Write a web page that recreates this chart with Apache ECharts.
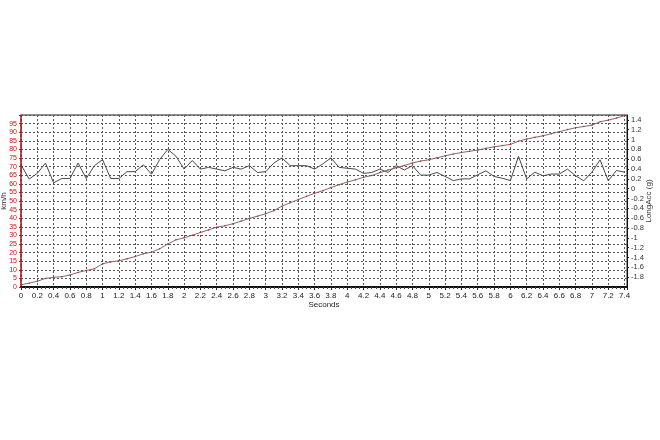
<!DOCTYPE html>
<html>
<head>
<meta charset="utf-8">
<script src="https://cdn.jsdelivr.net/npm/echarts@6/dist/echarts.min.js"></script>
<style>html,body{margin:0;padding:0;background:#fff}#c{width:660px;height:440px}</style>
</head>
<body>
<div id="c"></div>
<script>
var times = [0,0.1,0.2,0.3,0.4,0.5,0.6,0.7,0.8,0.9,1.0,1.1,1.2,1.3,1.4,1.5,1.6,1.7,1.8,1.9,2.0,2.1,2.2,2.3,2.4,2.5,2.6,2.7,2.8,2.9,3.0,3.1,3.2,3.3,3.4,3.5,3.6,3.7,3.8,3.9,4.0,4.1,4.2,4.3,4.4,4.5,4.6,4.7,4.8,4.9,5.0,5.1,5.2,5.3,5.4,5.5,5.6,5.7,5.8,5.9,6.0,6.1,6.2,6.3,6.4,6.5,6.6,6.7,6.8,6.9,7.0,7.1,7.2,7.3,7.4];
var speedKmh = [1.3,2.2,3.3,5.0,5.6,6.0,7.0,8.5,9.6,10.6,13.5,14.6,15.2,16.4,17.7,19.3,20.2,22.2,25.0,27.4,28.6,30.1,31.7,33.2,34.8,35.6,36.8,38.3,39.9,41.2,42.6,44.4,47.0,49.0,50.8,52.7,54.5,56.0,57.8,59.5,61.0,62.3,63.8,64.8,66.5,68.0,69.3,70.7,72.1,73.2,74.0,75.1,76.3,77.3,78.2,78.9,79.6,80.6,81.5,82.2,82.9,84.8,86.0,87.0,87.9,89.1,90.3,91.5,92.6,93.3,94.1,96.1,97.0,98.2,99.6];
var longAcc = [0.487,0.197,0.312,0.522,0.120,0.207,0.207,0.522,0.207,0.469,0.592,0.207,0.207,0.347,0.347,0.487,0.295,0.592,0.801,0.661,0.399,0.574,0.399,0.434,0.399,0.364,0.434,0.399,0.469,0.330,0.347,0.522,0.627,0.469,0.469,0.469,0.399,0.504,0.627,0.434,0.417,0.399,0.312,0.330,0.399,0.330,0.469,0.382,0.469,0.277,0.277,0.330,0.249,0.165,0.200,0.200,0.284,0.364,0.249,0.214,0.165,0.658,0.200,0.337,0.263,0.298,0.298,0.399,0.263,0.162,0.337,0.588,0.162,0.371,0.337];

var speedData = times.map(function(t,i){return [t, speedKmh[i]];});
var accData = times.map(function(t,i){return [t, longAcc[i]];});

var chart = echarts.init(document.getElementById('c'), null, {renderer:'canvas'});
var FONT = 'Liberation Sans';
chart.setOption({
  animation: false,
  backgroundColor: '#ffffff',
  grid: {left: 21, right: 33, top: 115, bottom: 153, containLabel: false, outerBoundsMode: 'none',
    show: true, borderColor: '#222', borderWidth: 1, backgroundColor: 'transparent'},
  xAxis: {
    type: 'value', min: 0, max: 7.43, interval: 0.2,
    name: 'Seconds', nameLocation: 'middle', nameGap: 14, nameMoveOverlap: false,
    nameTextStyle: {fontFamily: FONT, fontSize: 8, color: '#222'},
    axisLine: {show: true, lineStyle: {color: '#111', width: 2}},
    axisTick: {show: true, length: 3, lineStyle: {color: '#222'}},
    minorTick: {show: true, splitNumber: 4, length: 2, lineStyle: {color: '#444'}},
    axisLabel: {fontFamily: FONT, fontSize: 8, color: '#222', margin: 5, showMaxLabel: false,
      formatter: function(v){ if (v > 7.41) return ''; return String(Math.round(v*10)/10); }},
    splitLine: {show: true, lineStyle: {color: '#555', type: [2,2], width: 1}}
  },
  yAxis: [{
    type: 'value', min: 0, max: 100, interval: 5, position: 'left',
    name: 'km/h', nameLocation: 'middle', nameGap: 13, nameRotate: 90, nameMoveOverlap: false,
    nameTextStyle: {fontFamily: FONT, fontSize: 8, color: '#333'},
    axisLine: {show: true, lineStyle: {color: '#d01010', type: [3,2], width: 1.5}},
    axisTick: {show: true, length: 2, lineStyle: {color: '#d01010'}},
    axisLabel: {fontFamily: FONT, fontSize: 7, color: '#cc1111', margin: 4,
      formatter: function(v){ return v >= 100 ? '' : String(v); }},
    splitLine: {show: true, lineStyle: {color: '#555', type: [2,2], width: 1}}
  }, {
    type: 'value', min: -2, max: 1.5, interval: 0.2, position: 'right',
    name: 'LongAcc (g)', nameLocation: 'middle', nameGap: 18, nameRotate: 90, nameMoveOverlap: false,
    nameTextStyle: {fontFamily: FONT, fontSize: 8, color: '#333'},
    axisLine: {show: true, lineStyle: {color: '#111', width: 1}},
    axisTick: {show: true, length: 2, lineStyle: {color: '#222'}},
    axisLabel: {fontFamily: FONT, fontSize: 7.5, color: '#333', margin: 4, showMinLabel: false, showMaxLabel: false,
      formatter: function(v){ if (v < -1.9 || v > 1.45) return ''; return String(Math.round(v*10)/10); }},
    splitLine: {show: false}
  }],
  series: [{
    name: 'Speed', type: 'line', yAxisIndex: 0, data: speedData,
    showSymbol: true, symbol: 'circle', symbolSize: 1.5,
    itemStyle: {color: '#d02020'},
    lineStyle: {color: '#7d6a6a', width: 1},
    z: 3
  }, {
    name: 'LongAcc', type: 'line', yAxisIndex: 1, data: accData,
    showSymbol: false,
    lineStyle: {color: '#4a4a4a', width: 1},
    z: 2
  }]
});
</script>
</body>
</html>
